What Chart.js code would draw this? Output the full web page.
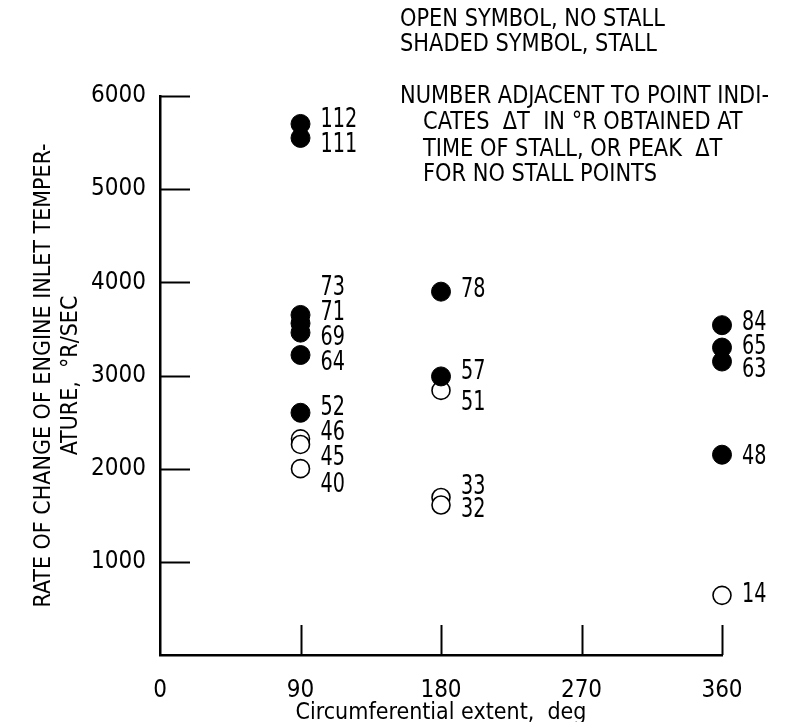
<!DOCTYPE html>
<html>
<head>
<meta charset="utf-8">
<script src="https://cdn.jsdelivr.net/npm/chart.js@4.4.1/dist/chart.umd.min.js"></script>
<style>
  html, body { margin: 0; padding: 0; background: #fff; }
  #graphe { display: block; }
</style>
</head>
<body>
<canvas id="graphe" width="787" height="722"></canvas>
<script>
// Donnees
const extent = [90, 90, 90, 90, 90, 90, 90, 90, 90, 90, 180, 180, 180, 180, 180, 360, 360, 360, 360, 360];
const rate = [5700, 5550, 3650, 3560, 3460, 3220, 2600, 2320, 2260, 2000, 3900, 2990, 2840, 1690, 1610, 3540, 3300, 3150, 2150, 640];
const deltaT = [112, 111, 73, 71, 69, 64, 52, 46, 45, 40, 78, 57, 51, 33, 32, 84, 65, 63, 48, 14];
const stall = [1, 1, 1, 1, 1, 1, 1, 0, 0, 0, 1, 1, 0, 0, 0, 1, 1, 1, 1, 0];
// hauteur (en °R/sec) ou le nombre est ecrit
const tagRate = [5740, 5470, 3940, 3670, 3400, 3130, 2650, 2380, 2110, 1820, 3920, 3030, 2700, 1800, 1550, 3560, 3300, 3060, 2120, 640];

const xTicks = [0, 90, 180, 270, 360];
const yTicks = [1000, 2000, 3000, 4000, 5000, 6000];

const notes = [
    "OPEN SYMBOL, NO STALL",
    "SHADED SYMBOL, STALL",
    "NUMBER ADJACENT TO POINT INDI-",
    "CATES  \u0394T  IN \u00B0R OBTAINED AT",
    "TIME OF STALL, OR PEAK  \u0394T",
    "FOR NO STALL POINTS"
];

const FONT = "'Liberation Sans Narrow', 'DejaVu Sans Condensed', sans-serif";

let shaded = [], open = [];
for (let i = 0; i < extent.length; i++) {
    let p = {x: extent[i], y: rate[i]};
    if (stall[i]) shaded.push(p); else open.push(p);
}

//Plugin : ticks vers l'interieur, nombres et notes
const decor = {
    id: "decor",
    afterDraw(chart) {
        const ctx = chart.ctx;
        const area = chart.chartArea;
        const sx = chart.scales.x, sy = chart.scales.y;
        ctx.save();
        ctx.strokeStyle = "#000";
        ctx.lineWidth = 2;
        for (let i = 0; i < yTicks.length; i++) {
            let y = Math.round(sy.getPixelForValue(yTicks[i])) + 0.5;
            ctx.beginPath();
            ctx.moveTo(area.left, y);
            ctx.lineTo(area.left + 30, y);
            ctx.stroke();
        }
        for (let i = 1; i < xTicks.length; i++) {
            let x = Math.round(sx.getPixelForValue(xTicks[i])) + 0.5;
            ctx.beginPath();
            ctx.moveTo(x, area.bottom);
            ctx.lineTo(x, area.bottom - 30);
            ctx.stroke();
        }

        // nombres a cote des points (police un peu serree)
        ctx.fillStyle = "#000";
        ctx.font = "26px " + FONT;
        ctx.textBaseline = "middle";
        ctx.textAlign = "left";
        for (let i = 0; i < deltaT.length; i++) {
            let x = sx.getPixelForValue(extent[i]) + 20;
            let y = sy.getPixelForValue(tagRate[i]);
            ctx.save();
            ctx.translate(x, y);
            ctx.scale(0.82, 1);
            ctx.fillText(String(deltaT[i]), 0, 0);
            ctx.restore();
        }

        ctx.font = "24px " + FONT;
        const noteY = [20, 45, 97, 123, 150, 175];
        for (let i = 0; i < notes.length; i++) {
            ctx.save();
            ctx.translate(i < 3 ? 400 : 423, noteY[i]);
            ctx.scale(0.97, 1);
            ctx.fillText(notes[i], 0, 0);
            ctx.restore();
        }
        ctx.restore();
    }
};

new Chart(document.getElementById("graphe"), {
    type: "scatter",
    data: {
        datasets: [
            {
                label: "Shaded symbol, stall",
                data: shaded,
                pointStyle: "circle",
                pointRadius: 9.5,
                pointBackgroundColor: "#000",
                pointBorderColor: "#000",
                pointBorderWidth: 1,
                clip: false
            },
            {
                label: "Open symbol, no stall",
                data: open,
                pointStyle: "circle",
                pointRadius: 9,
                pointBackgroundColor: "#fff",
                pointBorderColor: "#000",
                pointBorderWidth: 1.6,
                clip: false
            }
        ]
    },
    options: {
        responsive: false,
        animation: false,
        devicePixelRatio: 1,
        layout: { padding: { top: 96, right: 65, bottom: 0, left: 0 } },
        plugins: {
            legend: { display: false },
            tooltip: { enabled: false }
        },
        scales: {
            x: {
                type: "linear",
                min: 0,
                max: 360,
                afterFit: function(s) { s.height = 67; },
                afterBuildTicks: function(s) { s.ticks = xTicks.map(v => ({value: v})); },
                grid: { display: false, drawTicks: false },
                border: { display: true, color: "#000", width: 2.5 },
                ticks: {
                    padding: 21,
                    color: "#000",
                    font: { family: FONT, size: 24 },
                    callback: v => String(v)
                },
                title: {
                    display: true,
                    text: "Circumferential extent,  deg",
                    color: "#000",
                    font: { family: FONT, size: 23, lineHeight: 1.0 },
                    padding: { top: 0, bottom: -3 }
                }
            },
            y: {
                type: "linear",
                min: 0,
                max: 6000,
                afterFit: function(s) { s.width = 160; },
                afterBuildTicks: function(s) { s.ticks = yTicks.map(v => ({value: v})); },
                grid: { display: false, drawTicks: false },
                border: { display: true, color: "#000", width: 2.5 },
                ticks: {
                    padding: 14,
                    color: "#000",
                    font: { family: FONT, size: 24 },
                    callback: v => String(v)
                },
                title: {
                    display: true,
                    text: ["RATE OF CHANGE OF ENGINE INLET TEMPER-", "ATURE,  \u00B0R/SEC"],
                    color: "#000",
                    font: { family: FONT, size: 23, lineHeight: 1.2 },
                    padding: { top: 30, bottom: 0 }
                }
            }
        }
    },
    plugins: [decor]
});
</script>
</body>
</html>
